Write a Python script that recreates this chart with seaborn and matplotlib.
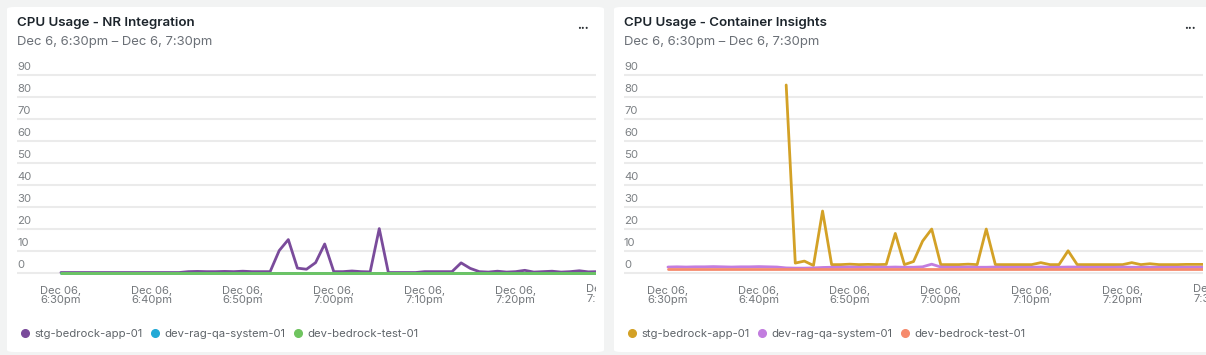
import pandas as pd
import numpy as np
import seaborn as sns
import matplotlib.pyplot as plt
from matplotlib.patches import FancyBboxPatch
from matplotlib.lines import Line2D
from matplotlib.transforms import offset_copy, Bbox

# Dados (1 ponto por minuto, 18:30 -> 19:29)
TIMES = pd.date_range('2024-12-06 18:30', periods=60, freq='min')

NR_HOSTS = ['stg-bedrock-app-01', 'dev-rag-qa-system-01', 'dev-bedrock-test-01']
NR_STG = [0, 0, 0, 0, 0, 0, 0, 0, 0, 0, 0, 0, 0, 0,
          0.4, 0.5, 0.4, 0.4, 0.5, 0.4, 0.6, 0.4, 0.4, 0.4,
          10, 15, 2, 1.5, 4.5, 13, 0.4, 0.4, 0.7, 0.4,
          0.3, 20, 0, 0, 0, 0, 0.4, 0.4, 0.4, 0.4,
          4.4, 1.9, 0.4, 0.2, 0.6, 0.2, 0.4, 1.0, 0.2, 0.4,
          0.6, 0.2, 0.4, 0.8, 0.3, 0.4]
NR_RAG = [0.0] * 60
NR_TEST = [0.0] * 60

CI_HOSTS = ['stg-bedrock-app-01', 'dev-rag-qa-system-01', 'dev-bedrock-test-01']
CI_STG = [np.nan] * 13 + [
    85.4, 4.3, 5.2, 3.2, 28, 3.6, 3.6, 3.8, 3.6, 3.7, 3.6, 3.7,
    17.8, 3.6, 5.0, 14.3, 19.8, 3.6, 3.6, 3.6, 3.8, 3.6,
    19.8, 3.6, 3.6, 3.6, 3.6, 3.6, 4.5, 3.6, 3.6, 9.9,
    3.6, 3.6, 3.6, 3.6, 3.6, 3.6, 4.5, 3.6, 4.0, 3.6,
    3.6, 3.6, 3.7, 3.7, 3.7]
CI_RAG = [2.5, 2.6, 2.5, 2.6, 2.6, 2.7, 2.6, 2.5, 2.6, 2.6, 2.7, 2.6, 2.5,
          2.1, 2.0, 2.0, 2.1, 2.3, 2.4, 2.4, 2.5, 2.4, 2.4, 2.5, 2.4,
          2.5, 2.4, 2.4, 2.6, 3.8, 2.5, 2.4, 2.4, 2.5, 2.4, 2.4, 2.5,
          2.4, 2.4, 2.4, 2.4, 2.5, 2.4, 2.4, 2.5, 2.5, 2.4, 2.4, 2.4,
          2.4, 2.5, 2.4, 2.4, 2.4, 2.4, 2.4, 2.4, 2.4, 2.4, 2.4]
CI_TEST = [1.5] * 60

Y_TICKS = [0, 10, 20, 30, 40, 50, 60, 70, 80, 90]
X_TICKS = pd.date_range('2024-12-06 18:30', periods=7, freq='10min')
X_TICK_LABELS = ['Dec 06,\n6:30pm', 'Dec 06,\n6:40pm', 'Dec 06,\n6:50pm', 'Dec 06,\n7:00pm',
                 'Dec 06,\n7:10pm', 'Dec 06,\n7:20pm', 'Dec 06,\n7:30pm']

NR_COLORS = ['#7a4b9b', '#22a9d6', '#6fc45f']
CI_COLORS = ['#d3a126', '#c27ddf', '#f68a6c']

W, H = 1206, 355
BG = '#f2f3f3'
FONT = ['Inter', 'DejaVu Sans']

sns.set_style('white')
plt.rcParams['font.family'] = FONT


def px(x, y):
    return x / W, 1 - y / H


def build_df(hosts, series):
    frames = []
    for host, vals in zip(hosts, series):
        frames.append(pd.DataFrame({'time': TIMES, 'cpu': vals, 'host': host}))
    return pd.concat(frames, ignore_index=True)


def draw_card(fig, x0, card_w, title, df, colors):
    # fundo do cartão (atrás dos eixos)
    card = FancyBboxPatch(px(x0, 352), card_w / W, 345 / H,
                          boxstyle='round,pad=0,rounding_size=0.006',
                          transform=fig.transFigure, facecolor='white', edgecolor='none', zorder=-1)
    fig.patches.append(card)
    fig.text(*px(x0 + 10, 23), title, fontsize=9.6, fontweight='semibold', color='#1d252c', va='center')
    fig.text(*px(x0 + 10, 41.5), 'Dec 6, 6:30pm \u2013 Dec 6, 7:30pm', fontsize=9.45,
             color='#6b7077', va='center')
    fig.text(*px(x0 + 576, 28), '\u2022\u2022\u2022', fontsize=5, color='#2b3035', va='center', ha='center')

    ax = fig.add_axes([(x0 + 10) / W, 1 - 274.5 / H, 579 / W, 204 / H])
    ax.set_facecolor('none')
    sns.lineplot(data=df, x='time', y='cpu', hue='host', palette=colors, ax=ax,
                 legend=False, linewidth=2.0, estimator=None)
    ax.set_ylim(-0.9, 92)
    ax.set_xlim(pd.Timestamp('2024-12-06 18:25:10'), pd.Timestamp('2024-12-06 19:28:50'))
    ax.set_yticks(Y_TICKS)
    ax.yaxis.grid(True, color='#ebebeb', linewidth=1.5)
    ax.set_axisbelow(True)
    ax.tick_params(axis='y', left=False, labelleft=False)
    trans = offset_copy(ax.get_yaxis_transform(), fig=fig, x=0, y=5, units='dots')
    for v in Y_TICKS:
        ax.text(0, v, str(v), transform=trans, ha='left', va='baseline', fontsize=8.2, color='#7d8185')

    ax.set_xticks(X_TICKS[:-1])
    ax.set_xticklabels(X_TICK_LABELS[:-1])
    ax.tick_params(axis='x', length=5, width=1.2, color='#dedede', pad=3,
                   labelsize=8, labelcolor='#73777b')
    for lbl in ax.get_xticklabels():
        lbl.set_linespacing(0.98)
    # último rótulo cortado pela borda do cartão
    last = ax.text(X_TICKS[-1], 0, X_TICK_LABELS[-1], ha='center', va='top', fontsize=8,
                   color='#73777b', linespacing=0.98,
                   transform=offset_copy(ax.get_xaxis_transform(), fig=fig, x=0, y=-10, units='dots'))
    last.set_clip_box(Bbox.from_extents(x0, 0, x0 + card_w - 8, H))
    last.set_clip_on(True)
    for s in ax.spines.values():
        s.set_visible(False)
    ax.set_xlabel('')
    ax.set_ylabel('')

    handles = [Line2D([], [], marker='o', linestyle='', markersize=5.5, color=c) for c in colors]
    fig.legend(handles, list(df['host'].unique()), loc='center left',
               bbox_to_anchor=px(x0 + 14, 334), ncol=3, frameon=False,
               handlelength=0.65, handletextpad=0.55, columnspacing=0.75,
               borderaxespad=0, borderpad=0, fontsize=8.1, labelcolor='#5f6469')
    return ax


fig = plt.figure(figsize=(W / 100, H / 100), dpi=100, facecolor=BG)

df_nr = build_df(NR_HOSTS, [NR_STG, NR_RAG, NR_TEST])
df_ci = build_df(CI_HOSTS, [CI_STG, CI_RAG, CI_TEST])

draw_card(fig, 7, 597, 'CPU Usage - NR Integration', df_nr, NR_COLORS)
draw_card(fig, 614, 600, 'CPU Usage - Container Insights', df_ci, CI_COLORS)

fig.savefig('out.png', dpi=100, facecolor=BG)
